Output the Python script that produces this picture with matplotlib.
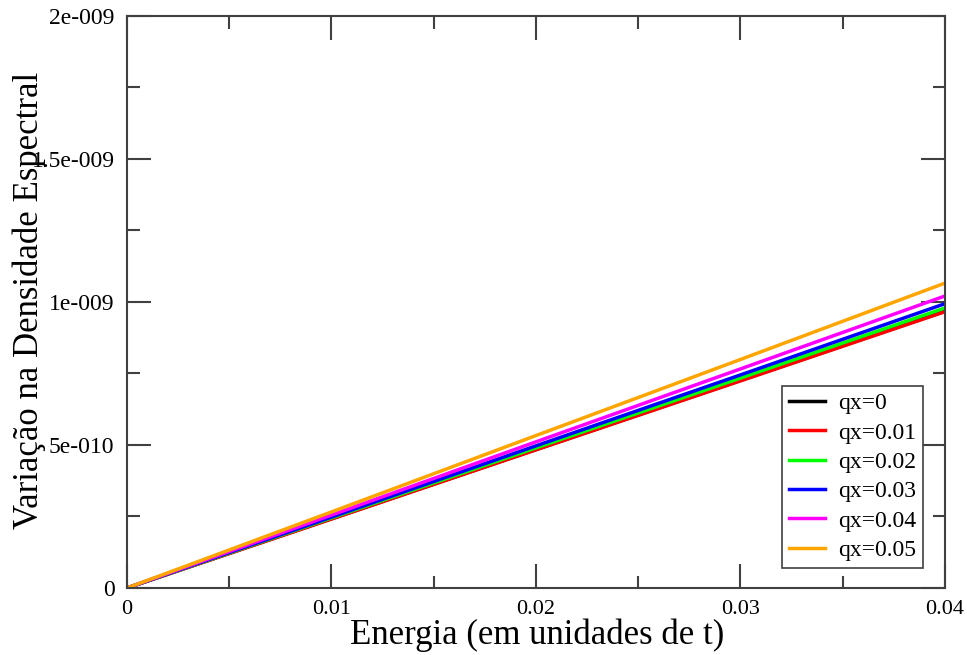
import numpy as np
import matplotlib.pyplot as plt
from matplotlib.ticker import MultipleLocator, FuncFormatter

plt.rcParams['font.family'] = ['Liberation Serif', 'DejaVu Serif']

# Energy values (units of t) and spectral density variation for each qx
energia = [0.0, 0.01, 0.02, 0.03, 0.04]
qx_0 = [0.0, 2.42e-10, 4.84e-10, 7.26e-10, 9.68e-10]
qx_001 = [0.0, 2.41e-10, 4.83e-10, 7.24e-10, 9.66e-10]
qx_002 = [0.0, 2.45e-10, 4.90e-10, 7.34e-10, 9.79e-10]
qx_003 = [0.0, 2.48e-10, 4.97e-10, 7.45e-10, 9.94e-10]
qx_004 = [0.0, 2.55e-10, 5.11e-10, 7.66e-10, 1.021e-9]
qx_005 = [0.0, 2.66e-10, 5.33e-10, 7.99e-10, 1.066e-9]

series = [qx_0, qx_001, qx_002, qx_003, qx_004, qx_005]
labels = ['qx=0', 'qx=0.01', 'qx=0.02', 'qx=0.03', 'qx=0.04', 'qx=0.05']
colors = ['black', 'red', '#00ff00', 'blue', '#ff00ff', '#ffa500']

fig = plt.figure(figsize=(9.67, 6.55), dpi=100)
ax = fig.add_axes([0.1313, 0.1023, 0.8459, 0.8733])

for ys, lab, c in zip(series, labels, colors):
    ax.plot(energia, ys, color=c, lw=2.5, label=lab)

ax.set_xlim(0, 0.04)
ax.set_ylim(0, 2e-9)
ax.xaxis.set_major_locator(MultipleLocator(0.01))
ax.xaxis.set_minor_locator(MultipleLocator(0.005))
ax.yaxis.set_major_locator(MultipleLocator(5e-10))
ax.yaxis.set_minor_locator(MultipleLocator(2.5e-10))


def fmt_y(v, pos):
    if v == 0:
        return '0'
    m, e = ('%g' % v).split('e')
    return '%se%s%03d' % (m, '-' if int(e) < 0 else '+', abs(int(e)))


ax.yaxis.set_major_formatter(FuncFormatter(fmt_y))
ax.xaxis.set_major_formatter(FuncFormatter(lambda v, p: '%g' % v))

frame_col = '#404040'
for s in ax.spines.values():
    s.set_color(frame_col)
    s.set_linewidth(1.5)
ax.tick_params(which='both', direction='in', top=True, right=True,
               color=frame_col, width=1.5, pad=9)
ax.tick_params(axis='x', labelsize=16)
ax.tick_params(axis='y', labelsize=17)
ax.tick_params(which='major', length=17)
ax.tick_params(which='minor', length=9)

# axis titles placed by their baselines
ax.set_xlabel('Energia (em unidades de t)', fontsize=25, va='baseline')
ax.xaxis.set_label_coords(0.502, -0.0975)
ax.set_ylabel('Variação na Densidade Espectral', fontsize=25, va='baseline')
ax.yaxis.set_label_coords(-0.109, 0.5035)

leg = ax.legend(loc='lower right', bbox_to_anchor=(0.973, 0.035),
                borderaxespad=0, fontsize=17, handlelength=1.5,
                handletextpad=0.55, labelspacing=0.33, borderpad=0.3,
                fancybox=False, framealpha=1, edgecolor=frame_col)
leg.get_frame().set_linewidth(1.2)

fig.savefig('out.png', dpi=100)
